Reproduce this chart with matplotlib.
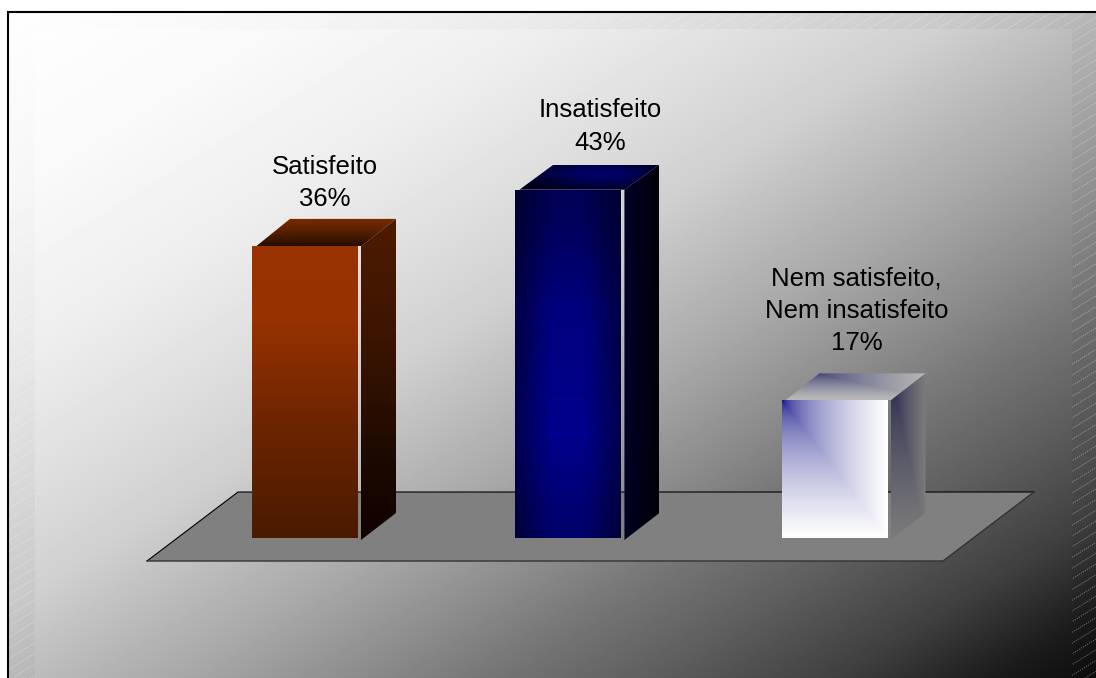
import numpy as np
import matplotlib
matplotlib.use("Agg")
import matplotlib.pyplot as plt
from matplotlib.patches import Polygon, Rectangle
from matplotlib.collections import LineCollection
from matplotlib.colors import to_rgb

# ---- data ----
labels = ["Satisfeito", "Insatisfeito", "Nem satisfeito,\nNem insatisfeito"]
values = [36, 43, 17]
positions = [0.0, 0.995, 2.0]

# ---- layout (pixels) ----
W, H = 1096, 678
PX_PER_X, PX_PER_Y, X0_PX, Y0_PX = 264.75, 8.1, 305.0, 538.0
BAR_PX, GAP_PX, DEPTH_PX = 106, 3, 35
TOP_DEPTH = [27.5, 25, 27]
LABEL_DX = [20, 32, 22]
LABEL_GAP = [13, 15, 23]
plt.rcParams["font.family"] = ["Liberation Sans", "DejaVu Sans"]

fig = plt.figure(figsize=(W / 100, H / 100), dpi=100, facecolor="white")

# ---- backdrop axes in pixel coordinates ----
bg = fig.add_axes([0, 0, 1, 1], zorder=0)
bg.set_xlim(0, W); bg.set_ylim(H, 0); bg.axis("off")

yy, xx = np.mgrid[0:H, 0:W]
t = (xx / W + yy / H) / 2
gray = np.interp(t, [0, .15, .27, .36, .45, .52, .58, .66, .72, .79, .88, .95, 1],
                 [255, 249, 238, 224, 208, 186, 168, 140, 118, 96, 64, 28, 12]) / 255
shade = 1 - .035 * np.clip(t * 2.5, 0, 1)
outer = bg.imshow(gray * shade, cmap="gray", vmin=0, vmax=1,
                  extent=(0, W, H, 0), aspect="auto", zorder=1)
outer.set_clip_path(Rectangle((9, 12), W, H, transform=bg.transData))
segs = [[(x, H + 20), (x + 1200, H + 20 - 1200 * .62)] for x in np.arange(-1300, W + 100, 17.3)]
hatch = LineCollection(segs, colors="white", linewidths=.7, alpha=.38,
                       linestyles=[(0, (1.2, 1.2))], zorder=2)
bg.add_collection(hatch)
hatch.set_clip_path(Rectangle((9, 12), W, H, transform=bg.transData))
inner = bg.imshow(gray, cmap="gray", vmin=0, vmax=1, extent=(0, W, H, 0),
                  aspect="auto", zorder=3)
inner.set_clip_path(Rectangle((35, 29), 1037, H, transform=bg.transData))
bg.set_xlim(0, W); bg.set_ylim(H, 0)

bg.plot([8, 8, W], [H, 12, 12], color="black", lw=1.5, zorder=4, solid_joinstyle="miter")
bg.add_patch(Polygon([(147, 561), (238, 492), (1034, 492), (943, 561)],
                     facecolor="#808080", edgecolor="none", zorder=5))
bg.plot([147, 238, 1034], [561, 492, 492], color="black", lw=.8, zorder=6)
bg.plot([147, 943, 1034], [561, 561, 492], color="#333333", lw=1.0, zorder=6)

# ---- data axes: same canvas, value scale ----
ax = fig.add_axes([0, 0, 1, 1], zorder=1)
ax.patch.set_alpha(0); ax.axis("off")
xlim = (-X0_PX / PX_PER_X, (W - X0_PX) / PX_PER_X)
ylim = ((Y0_PX - H) / PX_PER_Y, Y0_PX / PX_PER_Y)
dx = lambda p: p / PX_PER_X
dy = lambda p: p / PX_PER_Y


def stops(s, pts):
    """Interpolate RGB colour stops over s in [0, 1]."""
    locs = [p[0] for p in pts]
    cols = np.array([to_rgb(p[1]) for p in pts])
    return np.stack([np.interp(s, locs, cols[:, i]) for i in range(3)], axis=-1)


def paint(img, poly):
    xs, ys = zip(*poly)
    im = ax.imshow(img, extent=(min(xs), max(xs), min(ys), max(ys)), origin="upper",
                   aspect="auto", interpolation="bilinear", zorder=3)
    im.set_clip_path(Polygon(poly, transform=ax.transData))


def grid(n=128):
    return np.meshgrid(np.linspace(0, 1, n), np.linspace(0, 1, n))


# (u: left to right, v: top to bottom)
def front0(u, v): return stops(v, [(0, "#993300"), (.25, "#973200"), (.6, "#6e2500"), (1, "#4a1a00")])
def side0(u, v):  return stops(v, [(0, "#4d1b00"), (.35, "#3e1500"), (.75, "#1c0a00"), (1, "#100000")])
def top0(u, v):   return stops(v, [(0, "#7a2c00"), (.45, "#5a2000"), (1, "#260e00")])


def prof(u):
    return np.interp(u, [0, .35, .65, 1], [.55, 1, 1, .55])


def front1(u, v):
    k = prof(u) * np.interp(v, [0, .1, .35, .7, 1], [.6, .66, .9, 1, .76])
    return np.stack([0 * k, 0 * k, k * .55], axis=-1)


def side1(u, v):
    k = np.interp(u, [0, .25, 1], [.16, .14, .03]) * np.interp(v, [0, .5, 1], [.9, 1, .8])
    return np.stack([0 * k, 0 * k, k], axis=-1)


def top1(u, v):
    k = prof((u - .15) / .85) * np.interp(v, [0, .4, 1], [.3, .42, .16])
    return np.stack([0 * k, 0 * k, k], axis=-1)


def front2(u, v):
    s = np.maximum(u, v) ** .45
    return stops(s, [(0, "#000080"), (1, "#ffffff")])


def side2(u, v):
    s = np.maximum(u, v) ** .6
    return stops(s, [(0, "#151545"), (1, "#7c7c7c")])


def top2(u, v):
    s = np.clip(np.maximum((u - .2) / .8, v * 1.1), 0, 1) ** .6
    return stops(s, [(0, "#30306e"), (1, "#b6b6b6")])


fills = [(front0, side0, top0), (front1, side1, top1), (front2, side2, top2)]

for i, (x, val, lab) in enumerate(zip(positions, values, labels)):
    f, s, tp = fills[i]
    xl = x - dx(BAR_PX) / 2
    xr = xl + dx(BAR_PX)
    sl = xr + dx(GAP_PX)
    sr = sl + dx(DEPTH_PX)
    d = dy(TOP_DEPTH[i])
    u, v = grid()
    paint(f(u, v), [(xl, 0), (xr, 0), (xr, val), (xl, val)])
    paint(s(u, v), [(sl, -dy(2)), (sr, dy(25)), (sr, val + d), (sl, val)])
    paint(tp(u, v), [(xl + dx(4), val), (xl + dx(38), val + d), (sr, val + d), (sl, val)])
    ax.text(x + dx(LABEL_DX[i]), val + d + dy(LABEL_GAP[i]), f"{lab}\n{val}%",
            ha="center", va="baseline", ma="center", fontsize=18.5, color="black",
            linespacing=1.44, zorder=5)

ax.set_xlim(*xlim); ax.set_ylim(*ylim)
fig.savefig("out.png", dpi=100, facecolor="white")
